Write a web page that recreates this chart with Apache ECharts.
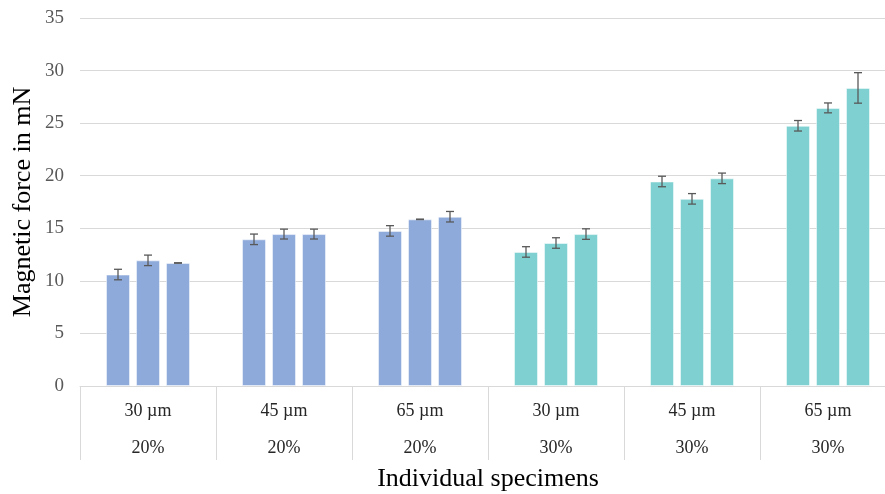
<!DOCTYPE html>
<html>
<head>
<meta charset="utf-8">
<script src="https://cdn.jsdelivr.net/npm/echarts@6/dist/echarts.min.js"></script>
<style>
  html, body { margin: 0; padding: 0; background: #fff; }
  #chart { width: 885px; height: 494px; }
</style>
</head>
<body>
<div id="chart"></div>
<script>
// particle size and concentration per group
const sizes = ['30 µm', '45 µm', '65 µm', '30 µm', '45 µm', '65 µm'];
const concentrations = ['20%', '20%', '20%', '30%', '30%', '30%'];

// three specimens per group (mN)
const specimen1 = [10.6, 13.95, 14.75, 12.75, 19.45, 24.75];
const specimen2 = [11.95, 14.45, 15.85, 13.6, 17.8, 26.45];
const specimen3 = [11.7, 14.45, 16.1, 14.45, 19.75, 28.35];

// standard deviations
const err1 = [0.5, 0.5, 0.5, 0.5, 0.5, 0.5];
const err2 = [0.5, 0.47, 0.02, 0.5, 0.5, 0.47];
const err3 = [0.02, 0.47, 0.5, 0.5, 0.5, 1.45];

const yTicks = [0, 5, 10, 15, 20, 25, 30, 35];

const colorFor = { '20%': '#8eaadb', '30%': '#7fd1d1' };
const specimens = [specimen1, specimen2, specimen3];
const errors = [err1, err2, err3];
const categories = sizes.map((s, i) => s + '\n' + concentrations[i]);

const chart = echarts.init(document.getElementById('chart'));

const barSeries = specimens.map((vals, k) => ({
  type: 'bar',
  barWidth: 24,
  barGap: '25%',
  data: vals.map((v, i) => ({
    value: v,
    itemStyle: { color: colorFor[concentrations[i]] }
  })),
  itemStyle: { borderColor: 'rgba(255,255,255,0.5)', borderWidth: 1 },
  z: 2
}));

const errSeries = errors.map((errs, k) => ({
  type: 'custom',
  z: 5,
  data: errs.map((e, i) => [i, specimens[k][i] - e, specimens[k][i] + e]),
  renderItem: (params, api) => {
    const band = api.size([1, 0])[0];
    const offset = (k - 1) * band * 30 / 136;
    const lo = api.coord([api.value(0), api.value(1)]);
    const hi = api.coord([api.value(0), api.value(2)]);
    const x = lo[0] + offset;
    const cap = 4;
    const style = { stroke: '#595959', lineWidth: 1.3 };
    return {
      type: 'group',
      children: [
        { type: 'line', shape: { x1: x, y1: lo[1], x2: x, y2: hi[1] }, style },
        { type: 'line', shape: { x1: x - cap, y1: lo[1], x2: x + cap, y2: lo[1] }, style },
        { type: 'line', shape: { x1: x - cap, y1: hi[1], x2: x + cap, y2: hi[1] }, style }
      ]
    };
  }
}));

chart.setOption({
  animation: false,
  textStyle: { fontFamily: 'Liberation Serif' },
  grid: { left: 80, right: -11, top: 18, bottom: 108, containLabel: false, outerBoundsMode: 'none' },
  xAxis: {
    type: 'category',
    data: categories,
    name: 'Individual specimens',
    nameLocation: 'middle',
    nameGap: 80,
    nameMoveOverlap: false,
    nameTextStyle: { fontSize: 26, color: '#000', fontFamily: 'Liberation Serif' },
    axisLine: { show: true, lineStyle: { color: '#d9d9d9', width: 1 } },
    axisTick: { show: true, interval: 0, length: 74, lineStyle: { color: '#d9d9d9' } },
    axisLabel: {
      interval: 0,
      margin: 7,
      fontSize: 18,
      lineHeight: 37,
      color: '#262626',
      fontFamily: 'Liberation Serif'
    }
  },
  yAxis: {
    type: 'value',
    min: yTicks[0],
    max: yTicks[yTicks.length - 1],
    interval: 5,
    name: 'Magnetic force in mN',
    nameLocation: 'middle',
    nameGap: 44,
    nameMoveOverlap: false,
    nameTextStyle: { fontSize: 26, color: '#000', fontFamily: 'Liberation Serif' },
    axisLine: { show: false },
    axisTick: { show: false },
    axisLabel: { fontSize: 19, color: '#595959', margin: 16, fontFamily: 'Liberation Serif' },
    splitLine: { lineStyle: { color: '#d9d9d9', width: 1 } }
  },
  series: [...barSeries, ...errSeries]
});
</script>
</body>
</html>
